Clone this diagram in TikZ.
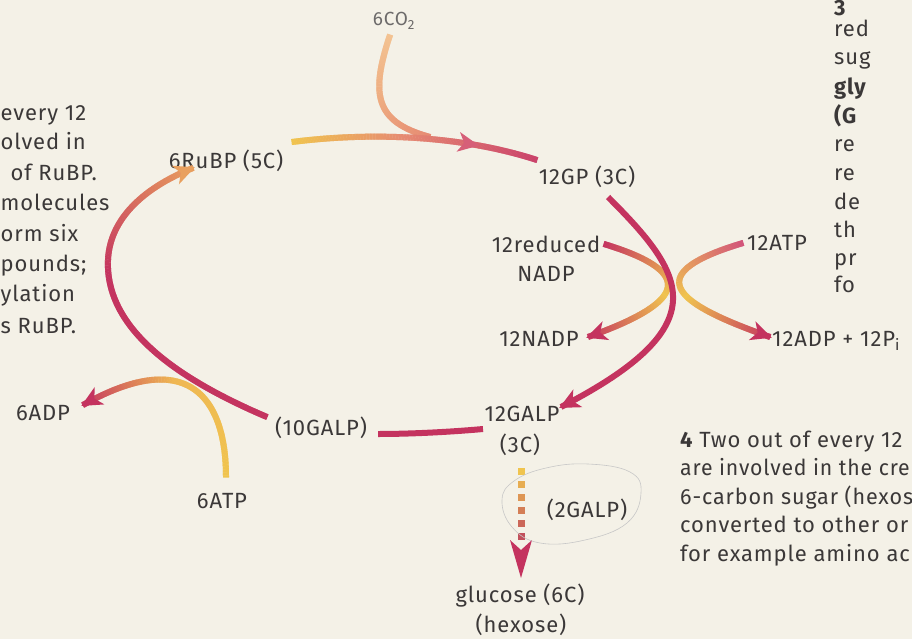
\documentclass[tikz,border=0pt]{standalone}
\usepackage{fontspec}
\setmainfont{Fira Sans}[LetterSpace=4]
\usetikzlibrary{decorations.markings}

\definecolor{paper}{HTML}{F4F1E7}
\definecolor{ink}{HTML}{3B3838}
\definecolor{cmag}{HTML}{C4335F}
\definecolor{cpink}{HTML}{D2547A}
\definecolor{cyel}{HTML}{F0C44E}
\definecolor{cyel2}{HTML}{EFB752}
\definecolor{corg}{HTML}{E9A05E}
\definecolor{cpeach}{HTML}{F3C392}
\definecolor{cpeach2}{HTML}{EEAC80}
\definecolor{csalmon}{HTML}{E68A72}
\definecolor{cdash}{HTML}{C2505C}

% one slice of a stroke whose colour runs #1 -> #2 -> #3 along the path,
% #2 being reached at #4 per cent of the length
\newcommand\gradpiece[4]{%
  \pgfmathsetmacro\gpos{\pgfkeysvalueof{/pgf/decoration/mark info/distance from start}/\pgfdecoratedpathlength*100}%
  \ifdim\gpos pt<#4pt
    \pgfmathtruncatemacro\gmix{\gpos/#4*100}%
    \fill[color={#2!\gmix!#1}] (-0.5pt,-3pt) rectangle (0.5pt,3pt);%
  \else
    \pgfmathtruncatemacro\gmix{min(100,(\gpos-#4)/(100-#4)*100)}%
    \fill[color={#3!\gmix!#2}] (-0.5pt,-3pt) rectangle (0.5pt,3pt);%
  \fi}
% barbed arrow head, tip at the origin, pointing along +x
\newcommand\barb[1]{\fill[#1] (2pt,0pt) -- (-19pt,10pt) -- (-13pt,0pt) -- (-19pt,-10pt) -- cycle;}

\begin{document}
\begin{tikzpicture}[x=1pt,y=-1pt,
  lbl/.style={font=\fontsize{22}{29}\selectfont, text=ink, inner sep=0pt, anchor=base},
  cyc/.style={draw=cmag, line width=6pt},
  grad/.style n args={4}{postaction={decorate,decoration={markings,
      mark=between positions 0 and 1 step 0.6pt with {\gradpiece{#1}{#2}{#3}{#4}}}}},
  headat/.style 2 args={postaction={decorate,decoration={markings,
      mark=at position #1 with {\barb{#2}}}}},
  pencil/.style={draw=black!22, line width=0.6pt}]

\useasboundingbox (0,0) rectangle (912,639);
\fill[paper] (0,0) rectangle (912,639);
\clip (0,0) rectangle (912,639);

% ---- side text of the page ----
\foreach \t/\y [count=\i] in {every 12/121, olved in/150, molecules/211,
    orm six/241, pounds;/271, ylation/301, s RuBP./333}
  \node[lbl, anchor=base west] (lt\i) at (0.5,\y) {\t};
\node[lbl, anchor=base east] (lt0) at (97,181) {of RuBP.};
\node[lbl, anchor=base west] (rt0) at (834,16) {\bfseries 3};
\foreach \t/\y [count=\i] in {red/37, sug/65, {\bfseries gly}/95, {\bfseries (G}/124,
    re/152, re/181, de/209, th/237, pr/265, fo/292}
  \node[lbl, anchor=base west] (rt\i) at (834,\y) {\t};
\node[lbl, anchor=base west] (bt1) at (680,447) {{\bfseries 4} Two out of every 12};
\node[lbl, anchor=base west] (bt2) at (680,475) {\scalebox{0.965}[1]{are involved in the cre}};
\node[lbl, anchor=base west] (bt3) at (680,504) {\scalebox{0.98}[1]{6-carbon sugar (hexos}};
\node[lbl, anchor=base west] (bt4) at (680,532) {converted to other or};
\node[lbl, anchor=base west] (bt5) at (680,561) {for example amino ac};

% ---- labels of the cycle ----
\node[lbl, font=\fontsize{19}{22}\selectfont, text=ink!75] (co2) at (394,26) {6CO\textsubscript{2}};
\node[lbl] (rubp) at (226,168) {6RuBP (5C)};
\node[lbl] (gp) at (587,185) {12GP (3C)};
\node[lbl] (rnadp) at (546,252) {12reduced};
\node[lbl] (rnadpb) at (546,281) {NADP};
\node[lbl] (atp12) at (777,250) {12ATP};
\node[lbl] (nadp) at (539,346) {12NADP};
\node[lbl, anchor=base west] (adp12) at (772,346) {12ADP + 12P\textsubscript{i}};
\node[lbl] (adp6) at (43,420) {6ADP};
\node[lbl] (galp10) at (321,435) {(10GALP)};
\node[lbl] (galp12) at (522,421) {12GALP};
\node[lbl] (galp12b) at (520,452) {(3C)};
\node[lbl] (galp2) at (587,517) {(2GALP)};
\node[lbl] (atp6) at (222,508) {6ATP};
\node[lbl] (glc) at (520,602) {glucose (6C)};
\node[lbl] (hex) at (521,632) {(hexose)};

% ---- ends of the connectors ----
\coordinate (co2s) at (390,35);
\coordinate (co2m) at (430,137);
\coordinate (rubpE) at (292,142);
\coordinate (gpW) at (537,160);
\coordinate (gpS) at (608,197);
\coordinate (galpE) at (561,407);
\coordinate (galpW) at (483,429);
\coordinate (galp10E) at (378,434);
\coordinate (galp10W) at (267,417);
\coordinate (rubpS) at (193,168);
\coordinate (rnadpE) at (604,244);
\coordinate (nadpE) at (588,337);
\coordinate (atp12W) at (743,243);
\coordinate (adp12W) at (770,337);
\coordinate (atp6N) at (226,477);
\coordinate (adp6E) at (83,405);

% carbon dioxide joining the cycle
\path[grad={cpeach}{cpeach2}{csalmon}{50}] (co2s) .. controls (370,95) and (375,122) .. (co2m);
% RuBP -> GP
\path[grad={cyel}{csalmon}{cmag!60!cpink}{45}, headat={0.75}{cpink!80!csalmon}]
  (rubpE) .. controls (370,132) and (460,135) .. (gpW);
% reduced NADP and ATP used in the reduction
\path[grad={cmag}{cyel}{cmag}{50}, headat={0.9999}{cmag}]
  (rnadpE) .. controls (706,275) and (675,306) .. (nadpE);
\path[grad={cpink}{cyel}{cmag}{50}, headat={0.9999}{cmag}]
  (atp12W) .. controls (632,276) and (682,306) .. (adp12W);
% GP -> GALP
\draw[cyc, headat={0.9999}{cmag}] (gpS) .. controls (685,274) and (720,325) .. (galpE);
% GALP returning to the cycle
\draw[cyc] (galpW) .. controls (450,432) and (410,434) .. (galp10E);
% ATP used in regenerating RuBP
\path[grad={cyel}{cyel2}{cmag}{55}, headat={0.9999}{cmag}]
  (atp6N) .. controls (226,400) and (190,345) .. (adp6E);
% GALP -> RuBP
\path[grad={cmag}{cmag}{corg}{60}, headat={0.9999}{corg}]
  (galp10W) .. controls (180,380) and (105,330) .. (108,260)
            .. controls (110,215) and (150,185) .. (rubpS);

% two GALP leave the cycle towards hexose
\foreach \yy/\c in {468/0,481/20,494/40,507/60,520/80,533/100}
  \fill[color={cdash!\c!cyel}] (517.5,\yy) rectangle (524.5,\yy+7);
\coordinate (glcN) at (521,578);
\fill[cmag] (glcN) -- (510,540) -- (521,550) -- (532,540) -- cycle;

% pencil loop drawn round the label
\draw[pencil] plot[smooth cycle, tension=0.7] coordinates
  {(502,500) (512,527) (540,543) (585,540) (627,523) (641,493) (630,472) (588,464) (546,468) (514,481)};
\end{tikzpicture}
\end{document}
